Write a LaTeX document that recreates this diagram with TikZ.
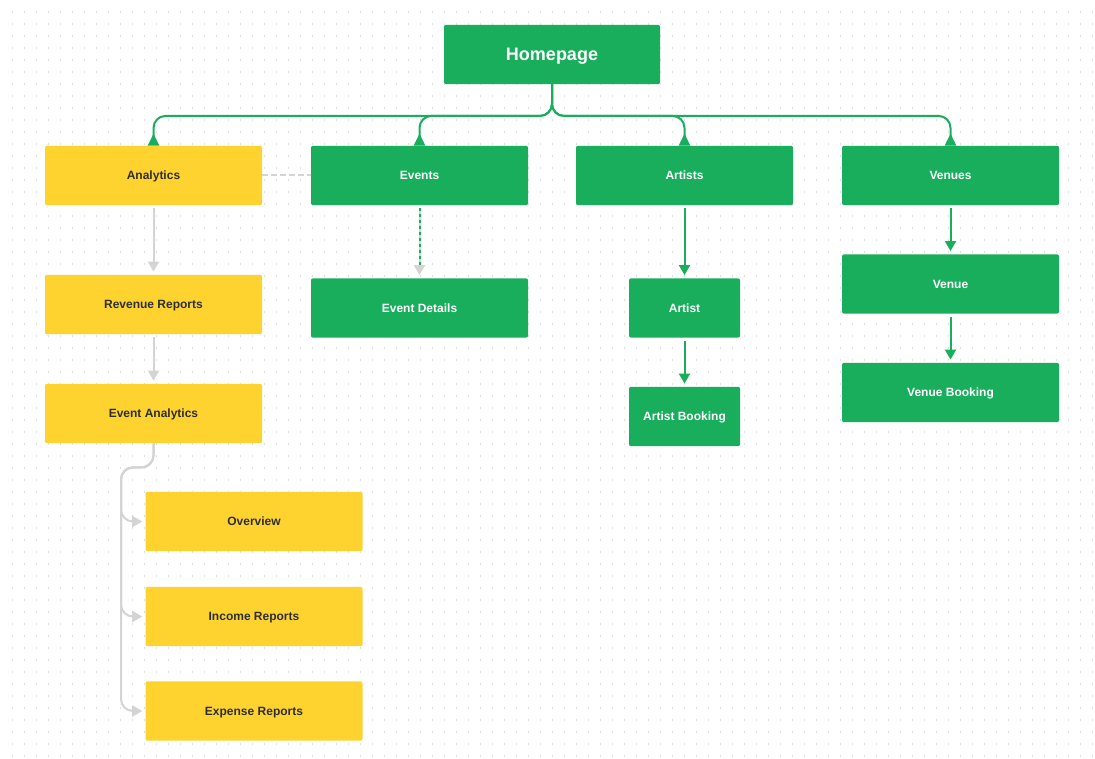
\documentclass[tikz,border=0pt]{standalone}
\usepackage{fontspec}
\setmainfont{Liberation Sans}
\usetikzlibrary{arrows.meta}
\definecolor{sitegreen}{HTML}{18AE5C}
\definecolor{siteyellow}{HTML}{FED330}
\definecolor{sitegray}{HTML}{D4D4D4}
\definecolor{sitetext}{HTML}{2E2E2E}
\definecolor{sitedot}{HTML}{E0E0E0}
\tikzset{
  pagebox/.style={rounded corners=1.5pt, minimum height=44.5pt, inner sep=0pt,
    text height=8pt, text depth=1.5pt, font=\bfseries\fontsize{9}{11}\selectfont},
  greenbox/.style={pagebox, fill=sitegreen, text=white},
  yellowbox/.style={pagebox, fill=siteyellow, text=sitetext},
  widebox/.style={minimum width=162.75pt},
  smallbox/.style={minimum width=83.25pt},
  treeline/.style={draw=sitegreen, line width=1.5pt, rounded corners=9pt,
    -{Triangle[reversed,width=8.25pt,length=9pt]}},
  greenarrow/.style={draw=sitegreen, line width=1.5pt, shorten <=2.25pt, shorten >=2.25pt,
    -{Triangle[width=8.25pt,length=7.5pt]}},
  grayarrow/.style={draw=sitegray, line width=1.5pt, shorten <=2.25pt, shorten >=2.25pt,
    -{Triangle[width=8.25pt,length=7.5pt]}},
  dotgrid/.style={draw=sitedot, line width=0.8pt, dash pattern=on 0.8pt off 8.2pt}
}

\begin{document}
\begin{tikzpicture}[x=0.75pt, y=-0.75pt]

    \useasboundingbox (0,0) rectangle (1095,759);
    \fill[white] (0,0) rectangle (1095,759);
    \foreach \y in {12,24,...,756}
        \draw[dotgrid] (11.5,\y) -- (1095,\y);

    % pages
    \node[greenbox, minimum width=162pt, text height=12pt, text depth=2.25pt,
        font=\bfseries\fontsize{13.5}{16}\selectfont]
        (home) at (552,54.5) {Homepage};

    \node[yellowbox, widebox] (analytics) at (153.5,175.5) {Analytics};
    \node[greenbox, widebox]  (events)    at (419.5,175.5) {Events};
    \node[greenbox, widebox]  (artists)   at (684.5,175.5) {Artists};
    \node[greenbox, widebox]  (venues)    at (950.5,175.5) {Venues};

    \node[yellowbox, widebox] (revenue)   at (153.5,304.5) {Revenue Reports};
    \node[yellowbox, widebox] (evanalyt)  at (153.5,413.5) {Event Analytics};
    \node[greenbox, widebox]  (evdetails) at (419.5,308)   {Event Details};
    \node[greenbox, smallbox] (artist)    at (684.5,308)   {Artist};
    \node[greenbox, smallbox] (artbook)   at (684.5,416.5) {Artist Booking};
    \node[greenbox, widebox]  (venue)     at (950.5,284)   {Venue};
    \node[greenbox, widebox]  (venbook)   at (950.5,392.5) {Venue Booking};

    \node[yellowbox, widebox] (overview)  at (254,521.5)   {Overview};
    \node[yellowbox, widebox] (income)    at (254,616.5)   {Income Reports};
    \node[yellowbox, widebox] (expense)   at (254,711)     {Expense Reports};

    % homepage tree
    \foreach \child in {analytics,events,artists,venues}
        \draw[treeline] (home.south) -- ++(0,31.5) -| (\child.north);

    % links
    \draw[draw=sitegray, line width=1.5pt, dash pattern=on 4.5pt off 2.25pt]
        (analytics.east) -- (events.west);
    \draw[grayarrow] (analytics) -- (revenue);
    \draw[grayarrow] (revenue) -- (evanalyt);
    \draw[grayarrow] (events) -- (evdetails);
    \draw[draw=sitegreen, line width=1.5pt, shorten <=2.25pt, shorten >=9pt,
        dash pattern=on 2.25pt off 2.25pt] (events) -- (evdetails);
    \draw[greenarrow] (artists) -- (artist);
    \draw[greenarrow] (artist) -- (artbook);
    \draw[greenarrow] (venues) -- (venue);
    \draw[greenarrow] (venue) -- (venbook);

    \foreach \child in {overview,income,expense}
        \draw[draw=sitegray, line width=1.5pt, rounded corners=9pt, shorten >=2.25pt,
            -{Triangle[width=8.25pt,length=7.5pt]}]
            (evanalyt.south) -- ++(0,24) -- ++(-32.5,0) |- (\child.west);

\end{tikzpicture}
\end{document}
